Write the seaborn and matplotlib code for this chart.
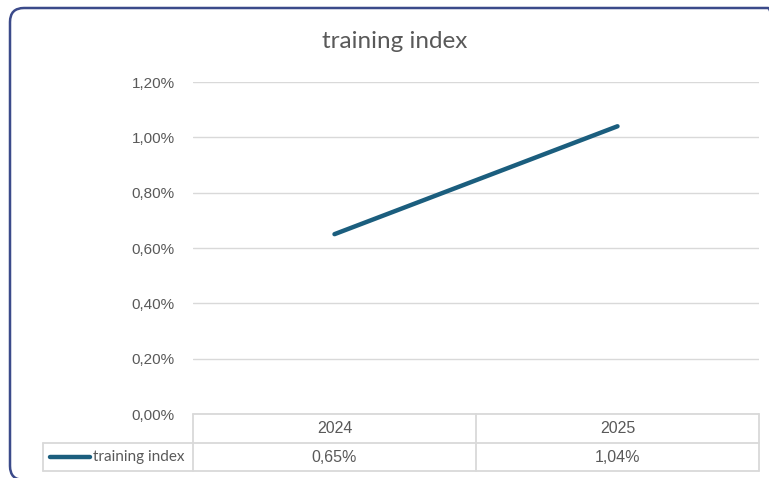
import numpy as np
import pandas as pd
import matplotlib
matplotlib.use("Agg")
import matplotlib.pyplot as plt
import matplotlib.transforms as mtransforms
from matplotlib.patches import FancyBboxPatch
from matplotlib.ticker import FuncFormatter, MultipleLocator
import seaborn as sns

sns.set_style("white")
plt.rcParams['font.family'] = ['Liberation Sans', 'DejaVu Sans']

# data
years = ["2024", "2025"]
training_index = [0.0065, 0.0104]
series_name = "training index"

LINE_COLOR = "#1b5e7e"
TEXT_COLOR = "#595959"
GRID_COLOR = "#d9d9d9"


def pct(v):
    return f"{v * 100:.2f}%".replace(".", ",")


def main():
    df = pd.DataFrame({"year": years, "value": training_index})

    fig = plt.figure(figsize=(7.69, 4.78), dpi=100)
    ax = fig.add_axes([193 / 769, 1 - 414 / 478, 566 / 769, 332 / 478])

    sns.lineplot(data=df, x="year", y="value", ax=ax, color=LINE_COLOR,
                 linewidth=3.2, solid_capstyle="round", legend=False)

    ax.set_xlim(-0.5, len(years) - 0.5)
    ax.set_ylim(0, 0.012)
    ax.yaxis.set_major_locator(MultipleLocator(0.002))
    ax.yaxis.set_major_formatter(FuncFormatter(lambda v, p: pct(v)))
    ax.grid(axis="y", color=GRID_COLOR, linewidth=1)
    ax.set_axisbelow(True)
    for s in ax.spines.values():
        s.set_visible(False)
    ax.tick_params(axis="y", length=0, pad=13, labelsize=11, labelcolor=TEXT_COLOR)
    ax.set_xticks([])
    ax.set_xlabel("")
    ax.set_ylabel("")

    # data table under the plot
    trans = mtransforms.blended_transform_factory(ax.transData, ax.transAxes)
    r1 = -29 / 332
    r2 = -57 / 332
    x_left = -0.5 - 150 / 283
    x_right = len(years) - 0.5
    kw = dict(transform=trans, color=GRID_COLOR, linewidth=1.3, clip_on=False)
    ax.plot([-0.5, x_right], [0, 0], **kw)
    ax.plot([x_left, x_right], [r1, r1], **kw)
    ax.plot([x_left, x_right], [r2, r2], **kw)
    ax.plot([x_left, x_left], [r1, r2], **kw)
    for i in range(len(years) + 1):
        ax.plot([i - 0.5, i - 0.5], [0, r2], **kw)
    for i, (y, v) in enumerate(zip(years, training_index)):
        ax.text(i, r1 / 2, y, transform=trans, ha="center", va="center",
                fontsize=11.5, color=TEXT_COLOR)
        ax.text(i, (r1 + r2) / 2, pct(v), transform=trans, ha="center", va="center",
                fontsize=11.5, color=TEXT_COLOR)
    # legend key inside the table
    ax.plot([x_left + 0.025, x_left + 0.165], [(r1 + r2) / 2] * 2, transform=trans,
            color=LINE_COLOR, linewidth=3.2, solid_capstyle="round", clip_on=False)
    ax.text(x_left + 0.175, (r1 + r2) / 2, series_name, transform=trans, ha="left",
            va="center", fontsize=11, color=TEXT_COLOR, family=["Lato", "DejaVu Sans"])

    fig.text(395 / 769, 1 - 41 / 478, series_name, ha="center", va="center",
             fontsize=17.5, color=TEXT_COLOR, family=["Lato", "DejaVu Sans"])

    # rounded chart border, drawn in pixel units
    border = FancyBboxPatch((10, -2), 772, 472,
                            boxstyle="round,pad=0,rounding_size=14",
                            transform=mtransforms.IdentityTransform(), facecolor="none",
                            edgecolor="#3b4a8a", linewidth=1.8, clip_on=False)
    fig.patches.append(border)

    fig.savefig("out.png", dpi=100)


if __name__ == '__main__':
    main()
